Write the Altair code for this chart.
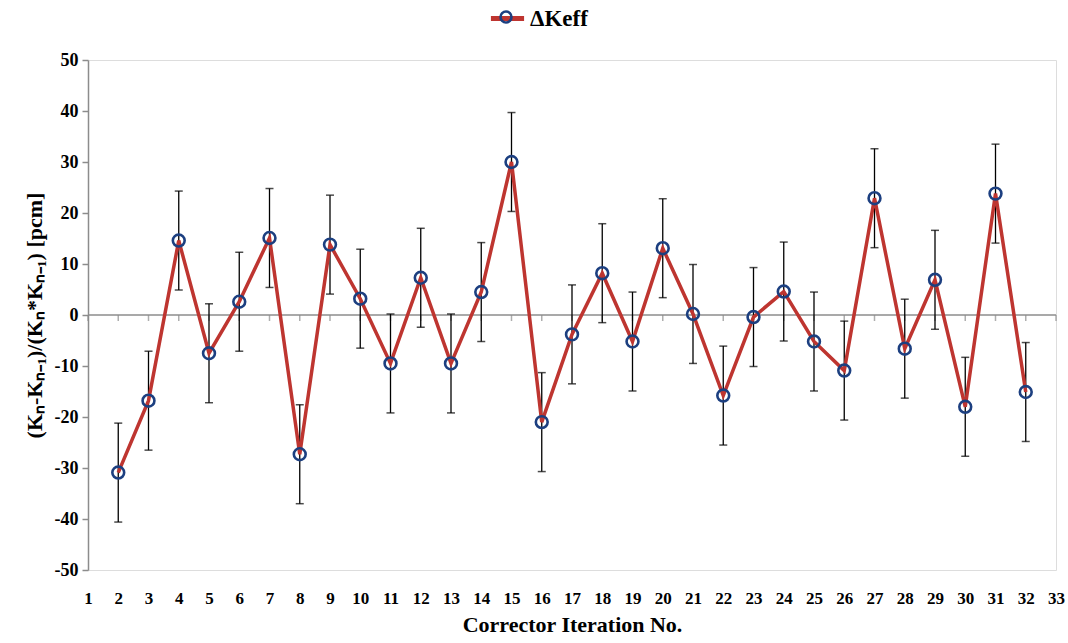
import altair as alt
import pandas as pd

iterations = list(range(2, 33))
delta_keff = [-30.9, -16.8, 14.6, -7.5, 2.6, 15.1, -27.3, 13.8, 3.2, -9.5,
              7.3, -9.5, 4.5, 30.0, -21.0, -3.8, 8.2, -5.2, 13.1, 0.2,
              -15.8, -0.4, 4.6, -5.2, -10.9, 22.9, -6.6, 6.9, -18.0, 23.8, -15.1]
err = [9.7] * len(iterations)
x_ticks = list(range(1, 34))
y_ticks = list(range(-50, 51, 10))

df = pd.DataFrame({"it": iterations, "v": delta_keff, "e": err})
df["lo"] = df["v"] - df["e"]
df["hi"] = df["v"] + df["e"]
df["series"] = "ΔKeff"
df["series2"] = "ΔKeff"

ticks_df = pd.DataFrame({"it": x_ticks, "v": [0] * len(x_ticks)})
zero_df = pd.DataFrame({"it": [1], "x2": [33], "v": [0]})

FONT = "Liberation Serif"
RED = "#BE3530"
NAVY = "#1C3F80"

xscale = alt.Scale(domain=[1, 33], nice=False, zero=False)
yscale = alt.Scale(domain=[-50, 50], nice=False)

xaxis = alt.Axis(values=x_ticks, domain=False, ticks=False, grid=False,
                 labelOverlap=False, labelFlush=False, labelBound=False,
                 labelExpr="toString(datum.value)",
                 labelFont=FONT, labelFontWeight="bold", labelFontSize=17,
                 labelColor="black", labelPadding=20,
                 title="Corrector Iteration No.", titleFont=FONT,
                 titleFontWeight="bold", titleFontSize=22, titleColor="black",
                 titlePadding=8)
yaxis = alt.Axis(values=y_ticks, grid=False, domainColor="#8c8c8c",
                 labelExpr="toString(datum.value)", labelOverlap=False,
                 domainWidth=1.5, tickColor="#8c8c8c", tickSize=6, tickWidth=1.5,
                 labelFont=FONT, labelFontWeight="bold", labelFontSize=18,
                 labelColor="black", labelPadding=4,
                 title="(Kₙ-Kₙ₋₁)/(Kₙ*Kₙ₋₁)  [pcm]", titleFont=FONT,
                 titleFontWeight="bold", titleFontSize=22, titleColor="black",
                 titlePadding=8)

X = lambda f: alt.X(f, scale=xscale, axis=xaxis)
Y = lambda f: alt.Y(f, scale=yscale, axis=yaxis)

zero = alt.Chart(zero_df).mark_rule(color="#8c8c8c", strokeWidth=1.5).encode(
    x=X("it:Q"), x2="x2:Q", y=Y("v:Q"))

zticks = alt.Chart(ticks_df).mark_tick(color="#8c8c8c", orient="vertical",
                                       size=6, thickness=1.5, yOffset=3).encode(
    x=X("it:Q"), y=Y("v:Q"))

bars = alt.Chart(df).mark_rule(color="black", strokeWidth=1.3).encode(
    x=X("it:Q"), y=Y("lo:Q"), y2="hi:Q")
cap_lo = alt.Chart(df).mark_tick(color="black", orient="horizontal", size=8,
                                 thickness=1.5).encode(x=X("it:Q"), y=Y("lo:Q"))
cap_hi = alt.Chart(df).mark_tick(color="black", orient="horizontal", size=8,
                                 thickness=1.5).encode(x=X("it:Q"), y=Y("hi:Q"))

line = alt.Chart(df).mark_line(strokeWidth=3.5).encode(
    x=X("it:Q"), y=Y("v:Q"),
    color=alt.Color("series:N", scale=alt.Scale(range=[RED]),
                    legend=alt.Legend(orient="none", legendX=400, legendY=-61,
                                      title=None, symbolType="stroke",
                                      symbolStrokeWidth=5, symbolSize=1100,
                                      labelFont=FONT, labelFontWeight="bold",
                                      labelFontSize=23, labelColor="black",
                                      labelOffset=3)))

pts = alt.Chart(df).mark_point(filled=False, size=140, strokeWidth=2.6,
                               opacity=1).encode(
    x=X("it:Q"), y=Y("v:Q"),
    stroke=alt.Stroke("series2:N", scale=alt.Scale(range=[NAVY]),
                      legend=alt.Legend(orient="none", legendX=411, legendY=-50,
                                        title=None, symbolType="circle",
                                        symbolStrokeWidth=2.6, symbolSize=120,
                                        symbolFillColor="white", symbolOpacity=1,
                                        labelExpr="''", labelFontSize=2,
                                        labelFont=FONT)))

chart = alt.layer(zero, zticks, bars, cap_lo, cap_hi, line, pts).properties(
    width=968, height=510,
    autosize=alt.AutoSizeParams(type="none"),
    padding={"left": 88, "top": 60, "right": 12, "bottom": 73},
).configure_view(stroke=None).configure(background="white").configure_axis(
    labelOverlap=False)

chart.save("out.html", embed_options={"renderer": "svg", "actions": False})
